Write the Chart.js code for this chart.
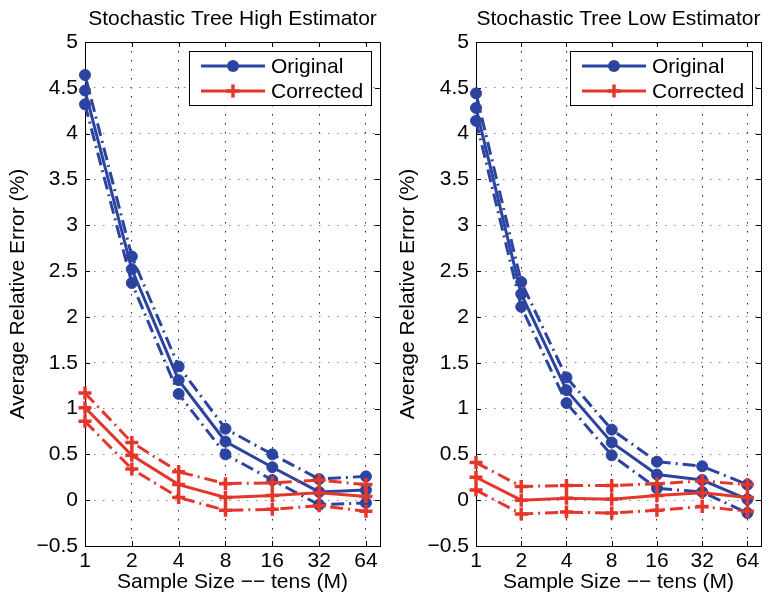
<!DOCTYPE html>
<html>
<head>
<meta charset="utf-8">
<title>Stochastic Tree Estimators</title>
<script src="https://cdn.jsdelivr.net/npm/chart.js@4/dist/chart.umd.min.js"></script>
<style>
  html, body { margin: 0; padding: 0; background: #fff; }
  #wrap { position: relative; width: 771px; height: 598px; overflow: hidden; }
  canvas { position: absolute; top: 0; }
  #highChart { left: 0; }
  #lowChart { left: 390px; }
</style>
</head>
<body>
<div id="wrap">
  <canvas id="highChart" width="390" height="598"></canvas>
  <canvas id="lowChart" width="381" height="598"></canvas>
</div>
<script>
// ----------------------------
// DATA
// ----------------------------
// sample sizes (tens of M), shown on a log2 axis
const sampleSizes = [1, 2, 4, 8, 16, 32, 64];
const xTickLabels = ["1", "2", "4", "8", "16", "32", "64"];
const yTicks = [-0.5, 0, 0.5, 1, 1.5, 2, 2.5, 3, 3.5, 4, 4.5, 5];
const seriesNames = ["Original", "Corrected"];

// high estimator: mean and band
const highOriginal = [4.47, 2.52, 1.31, 0.64, 0.36, 0.09, 0.11];
const highOriginalUpper = [4.64, 2.66, 1.46, 0.78, 0.50, 0.23, 0.26];
const highOriginalLower = [4.32, 2.37, 1.16, 0.50, 0.22, -0.05, -0.03];
const highCorrected = [1.01, 0.49, 0.17, 0.03, 0.05, 0.08, 0.04];
const highCorrectedUpper = [1.17, 0.63, 0.31, 0.18, 0.19, 0.22, 0.17];
const highCorrectedLower = [0.86, 0.34, 0.03, -0.11, -0.10, -0.06, -0.12];

// low estimator: mean and band
const lowOriginal = [4.28, 2.25, 1.20, 0.63, 0.28, 0.22, 0.01];
const lowOriginalUpper = [4.44, 2.38, 1.34, 0.77, 0.42, 0.37, 0.17];
const lowOriginalLower = [4.14, 2.11, 1.06, 0.49, 0.13, 0.09, -0.14];
const lowCorrected = [0.25, 0.00, 0.02, 0.01, 0.05, 0.08, 0.03];
const lowCorrectedUpper = [0.41, 0.15, 0.16, 0.16, 0.18, 0.21, 0.17];
const lowCorrectedLower = [0.11, -0.15, -0.13, -0.14, -0.11, -0.07, -0.12];

// ----------------------------
// STYLES
// ----------------------------
const BLUE = "#2c44a0";
const RED = "#e4372c";
const DASH_DOT = [13, 5, 2, 5];
const FONT = { family: "'Liberation Sans', Arial, Helvetica, sans-serif", size: 21 };

const markers = {
  Original: { color: BLUE, pointStyle: "circle", radius: 5.5, borderWidth: 1 },
  Corrected: { color: RED, pointStyle: "cross", radius: 6.5, borderWidth: 3.5 },
};

function toPoints(values) {
  return values.map((v, i) => ({ x: Math.log2(sampleSizes[i]), y: v }));
}

function line(name, values, dashed) {
  const m = markers[name];
  return {
    label: name,
    data: toPoints(values),
    borderColor: m.color,
    backgroundColor: m.color,
    borderWidth: 3,
    borderDash: dashed ? DASH_DOT : [],
    pointStyle: m.pointStyle,
    pointRadius: m.radius,
    pointBorderWidth: m.borderWidth,
    pointBackgroundColor: m.color,
    pointBorderColor: m.color,
    tension: 0,
    clip: 10,
    order: name === "Corrected" ? 0 : 1,
  };
}

// ----------------------------
// PLUGINS
// ----------------------------
// MATLAB-like box with inward tick marks
const axesBox = {
  id: "axesBox",
  beforeDatasetsDraw(chart) {
    const { ctx, chartArea: a, scales } = chart;
    ctx.save();
    ctx.strokeStyle = "#000";
    ctx.lineWidth = 1;
    ctx.strokeRect(a.left + 0.5, a.top + 0.5, a.right - a.left, a.bottom - a.top);
    ctx.beginPath();
    scales.x.ticks.forEach((t) => {
      const px = Math.round(scales.x.getPixelForValue(t.value)) + 0.5;
      ctx.moveTo(px, a.top); ctx.lineTo(px, a.top + 5);
      ctx.moveTo(px, a.bottom); ctx.lineTo(px, a.bottom - 5);
    });
    scales.y.ticks.forEach((t) => {
      const py = Math.round(scales.y.getPixelForValue(t.value)) + 0.5;
      ctx.moveTo(a.left, py); ctx.lineTo(a.left + 5, py);
      ctx.moveTo(a.right, py); ctx.lineTo(a.right - 5, py);
    });
    ctx.stroke();
    ctx.restore();
  },
};

function drawMarker(ctx, name, x, y) {
  const m = markers[name];
  ctx.fillStyle = m.color;
  ctx.strokeStyle = m.color;
  if (m.pointStyle === "circle") {
    ctx.beginPath();
    ctx.arc(x, y, m.radius + 0.5, 0, Math.PI * 2);
    ctx.fill();
  } else {
    ctx.lineWidth = m.borderWidth;
    ctx.beginPath();
    ctx.moveTo(x - m.radius, y); ctx.lineTo(x + m.radius, y);
    ctx.moveTo(x, y - m.radius); ctx.lineTo(x, y + m.radius);
    ctx.stroke();
  }
}

// framed legend in the upper right corner
const boxedLegend = {
  id: "boxedLegend",
  afterDatasetsDraw(chart) {
    const { ctx, chartArea: a } = chart;
    const w = 182, h = 54;
    const x0 = a.right - 9 - w;
    const y0 = a.top + 9;
    ctx.save();
    ctx.fillStyle = "#fff";
    ctx.fillRect(x0, y0, w, h);
    ctx.strokeStyle = "#000";
    ctx.lineWidth = 1;
    ctx.strokeRect(x0 + 0.5, y0 + 0.5, w, h);
    ctx.font = FONT.size + "px " + FONT.family;
    ctx.textBaseline = "middle";
    seriesNames.forEach((name, i) => {
      const y = y0 + 15 + i * 25;
      ctx.strokeStyle = markers[name].color;
      ctx.lineWidth = 3;
      ctx.beginPath();
      ctx.moveTo(x0 + 12, y);
      ctx.lineTo(x0 + 76, y);
      ctx.stroke();
      drawMarker(ctx, name, x0 + 44, y);
      ctx.fillStyle = "#000";
      ctx.fillText(name, x0 + 82, y + 1);
    });
    ctx.restore();
  },
};

// ----------------------------
// CHART BUILDER
// ----------------------------
function buildPanel(canvasId, title, yWidth, rightPad, orig, origUp, origLo, corr, corrUp, corrLo) {
  return new Chart(document.getElementById(canvasId), {
    type: "line",
    data: {
      datasets: [
        line("Corrected", corr, false),
        line("Corrected", corrUp, true),
        line("Corrected", corrLo, true),
        line("Original", orig, false),
        line("Original", origUp, true),
        line("Original", origLo, true),
      ],
    },
    options: {
      responsive: false,
      animation: false,
      devicePixelRatio: 1,
      layout: { padding: { left: 0, top: 0, right: rightPad, bottom: 0 } },
      plugins: {
        legend: { display: false },
        tooltip: { enabled: false },
        title: {
          display: true,
          text: title,
          color: "#000",
          font: { ...FONT, weight: "normal" },
          fullSize: false,
          padding: { top: 6.4, bottom: 10.4 },
        },
      },
      scales: {
        x: {
          type: "linear",
          min: 0,
          max: 6.3,
          afterBuildTicks: (s) => {
            s.ticks = sampleSizes.map((v) => ({ value: Math.log2(v) }));
          },
          afterFit: (s) => { s.height = 52; },
          ticks: {
            callback: (v, i) => xTickLabels[i],
            color: "#000",
            font: FONT,
            padding: 3,
            maxRotation: 0,
            autoSkip: false,
          },
          grid: { color: "#222", lineWidth: 1, drawTicks: false },
          border: { display: false, dash: [1.5, 7.5] },
          title: {
            display: true,
            text: "Sample Size \u2212\u2212 tens (M)",
            color: "#000",
            font: FONT,
            padding: { top: 0, bottom: 3.4 },
          },
        },
        y: {
          min: -0.5,
          max: 5,
          afterBuildTicks: (s) => {
            s.ticks = yTicks.map((v) => ({ value: v }));
          },
          afterFit: (s) => { s.width = yWidth; },
          ticks: {
            callback: (v) => (v < 0 ? "\u2212" + Math.abs(v) : String(v)),
            color: "#000",
            font: FONT,
            padding: 7,
          },
          grid: { color: "#888", lineWidth: 1, drawTicks: false },
          border: { display: false, dash: [1.5, 7.5] },
          title: {
            display: true,
            text: "Average Relative Error (%)",
            color: "#000",
            font: FONT,
            padding: { top: 6, bottom: 0 },
          },
        },
      },
    },
    plugins: [axesBox, boxedLegend],
  });
}

buildPanel("highChart", "Stochastic Tree High Estimator", 85, 7,
  highOriginal, highOriginalUpper, highOriginalLower,
  highCorrected, highCorrectedUpper, highCorrectedLower);

buildPanel("lowChart", "Stochastic Tree Low Estimator", 86, 1,
  lowOriginal, lowOriginalUpper, lowOriginalLower,
  lowCorrected, lowCorrectedUpper, lowCorrectedLower);
</script>
</body>
</html>
